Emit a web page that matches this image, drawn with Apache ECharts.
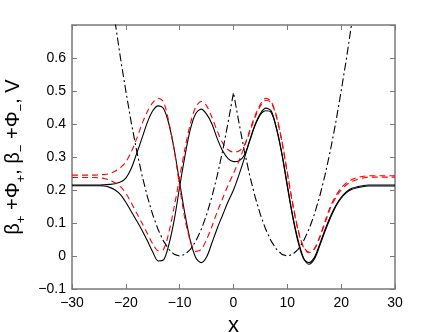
<!DOCTYPE html>
<html>
<head>
<meta charset="utf-8">
<script src="https://cdn.jsdelivr.net/npm/echarts@6/dist/echarts.min.js"></script>
<style>
  html, body { margin: 0; padding: 0; background: #fff; }
  #main { width: 436px; height: 332px; }
</style>
</head>
<body>
<div id="main"></div>
<script>
// x 坐标
const xs = [-30, -29, -28, -27, -26, -25, -24, -23, -22, -21, -20, -19, -18, -17, -16, -15, -14, -13, -12, -11, -10,
  -9, -8, -7, -6, -5, -4, -3, -2, -1, 0, 1, 2, 3, 4, 5, 6, 7, 8, 9, 10,
  11, 12, 13, 14, 15, 16, 17, 18, 19, 20, 21, 22, 23, 24, 25, 26, 27, 28, 29, 30]

// 黑色实线 1
const black1 = [0.215, 0.215, 0.215, 0.215, 0.215, 0.215, 0.216, 0.217, 0.219, 0.224, 0.236,
  0.265, 0.31, 0.357, 0.405, 0.44, 0.455, 0.447, 0.40, 0.322, 0.222,
  0.125, 0.045, -0.005, -0.02, -0.003, 0.04, 0.085, 0.125, 0.165, 0.2,
  0.245, 0.295, 0.35, 0.398, 0.432, 0.448, 0.44, 0.386, 0.307, 0.21,
  0.118, 0.042, -0.008, -0.02, -0.005, 0.035, 0.08, 0.12, 0.153, 0.178,
  0.195, 0.205, 0.21, 0.213, 0.215, 0.215, 0.215, 0.215, 0.215, 0.215]

// 黑色实线 2
const black2 = [0.213, 0.213, 0.213, 0.213, 0.213, 0.213, 0.212, 0.208, 0.2, 0.186, 0.163,
  0.135, 0.107, 0.078, 0.046, 0.012, -0.015, -0.012, 0.035, 0.11, 0.21,
  0.305, 0.385, 0.432, 0.445, 0.43, 0.40, 0.355, 0.318, 0.295, 0.286,
  0.288, 0.305, 0.348, 0.395, 0.428, 0.44, 0.435, 0.385, 0.31, 0.215,
  0.122, 0.048, -0.005, -0.025, -0.01, 0.03, 0.075, 0.115, 0.15, 0.175,
  0.192, 0.202, 0.207, 0.21, 0.212, 0.212, 0.212, 0.212, 0.212, 0.212]

// 红色虚线 1
const red1 = [0.245, 0.245, 0.245, 0.245, 0.245, 0.246, 0.247, 0.25, 0.257, 0.268, 0.285,
  0.315, 0.355, 0.40, 0.438, 0.465, 0.478, 0.467, 0.405, 0.32, 0.21,
  0.11, 0.045, 0.014, 0.02, 0.05, 0.09, 0.135, 0.175, 0.215, 0.25,
  0.288, 0.33, 0.38, 0.425, 0.46, 0.478, 0.468, 0.423, 0.348, 0.254,
  0.16, 0.08, 0.028, 0.012, 0.022, 0.058, 0.105, 0.15, 0.182, 0.206,
  0.222, 0.232, 0.238, 0.241, 0.243, 0.243, 0.243, 0.243, 0.243, 0.243]

// 红色虚线 2
const red2 = [0.238, 0.238, 0.238, 0.238, 0.238, 0.237, 0.235, 0.23, 0.222, 0.21, 0.19,
  0.162, 0.13, 0.1, 0.068, 0.037, 0.016, 0.02, 0.072, 0.15, 0.238,
  0.327, 0.402, 0.452, 0.468, 0.455, 0.42, 0.378, 0.342, 0.322, 0.315,
  0.318, 0.335, 0.375, 0.42, 0.455, 0.472, 0.465, 0.42, 0.345, 0.25,
  0.155, 0.077, 0.026, 0.01, 0.02, 0.055, 0.1, 0.145, 0.177, 0.2,
  0.216, 0.226, 0.232, 0.236, 0.239, 0.239, 0.239, 0.239, 0.239, 0.239]

// 势能 V（点划线）
const potV = [null, null, null, null, null, null, null, null, 0.71, 0.6, 0.5,
  0.405, 0.32, 0.245, 0.18, 0.125, 0.08, 0.045, 0.02, 0.005, 0,
  0.005, 0.02, 0.045, 0.08, 0.125, 0.18, 0.245, 0.32, 0.405, 0.495,
  0.405, 0.32, 0.245, 0.18, 0.125, 0.08, 0.045, 0.02, 0.005, 0,
  0.005, 0.02, 0.045, 0.08, 0.125, 0.18, 0.245, 0.32, 0.405, 0.5,
  0.6, 0.71, null, null, null, null, null, null, null, null]

const FONT = 'Liberation Sans, Arial, Helvetica, sans-serif'
const AXIS_COLOR = '#7a7a7a'

const pairs = (ys) => xs.map((x, i) => [x, ys[i]])
const minus = (v) => String(v).replace('-', '\u2212')

function lineSeries (ys, color, type, smooth) {
  return {
    type: 'line',
    data: pairs(ys),
    showSymbol: false,
    smooth: smooth,
    clip: true,
    lineStyle: { color: color, width: 1.1, type: type }
  }
}

const boxAxis = {
  axisLine: { show: true, onZero: false, lineStyle: { color: AXIS_COLOR, width: 1.5 } },
  axisTick: { show: true, inside: true, length: 5, lineStyle: { color: AXIS_COLOR } },
  splitLine: { show: false }
}

const chart = echarts.init(document.getElementById('main'), null, { renderer: 'canvas' })
chart.setOption({
  animation: false,
  backgroundColor: '#fff',
  grid: { left: 72, right: 41, top: 25, bottom: 43, containLabel: false, outerBoundsMode: 'none' },
  xAxis: [
    Object.assign({
      type: 'value', min: -30, max: 30, interval: 10, position: 'bottom',
      name: 'x', nameLocation: 'middle', nameGap: 22,
      nameTextStyle: { fontFamily: FONT, fontSize: 22, color: '#000' },
      axisLabel: { fontFamily: FONT, fontSize: 14, color: '#000', margin: 7, formatter: minus }
    }, boxAxis),
    Object.assign({
      type: 'value', min: -30, max: 30, interval: 10, position: 'top',
      axisLabel: { show: false }
    }, boxAxis)
  ],
  yAxis: [
    Object.assign({
      type: 'value', min: -0.1, max: 0.7, interval: 0.1, position: 'left',
      name: '{b|β}{s|+}{b| +Φ}{s|+}{b|, β}{s|−}{b| +Φ}{s|−}{b|, V}',
      nameLocation: 'middle', nameRotate: 90, nameGap: 41,
      nameTextStyle: {
        fontFamily: FONT,
        color: '#000',
        rich: {
          b: { fontFamily: FONT, fontSize: 20, lineHeight: 28, color: '#000' },
          s: { fontFamily: FONT, fontSize: 13, lineHeight: 13, verticalAlign: 'bottom', color: '#000' }
        }
      },
      axisLabel: {
        fontFamily: FONT, fontSize: 14, color: '#000', margin: 6,
        formatter: (v) => (v > 0.65 ? '' : minus(Math.round(v * 10) / 10))
      }
    }, boxAxis),
    Object.assign({
      type: 'value', min: -0.1, max: 0.7, interval: 0.1, position: 'right',
      axisLabel: { show: false }
    }, boxAxis)
  ],
  series: [
    lineSeries(black1, '#000', 'solid', 0.3),
    lineSeries(black2, '#000', 'solid', 0.3),
    lineSeries(red1, '#ff0000', [6, 4], 0.3),
    lineSeries(red2, '#ff0000', [6, 4], 0.3),
    lineSeries(potV, '#000', [8, 3, 2, 3], false)
  ]
})
</script>
</body>
</html>
